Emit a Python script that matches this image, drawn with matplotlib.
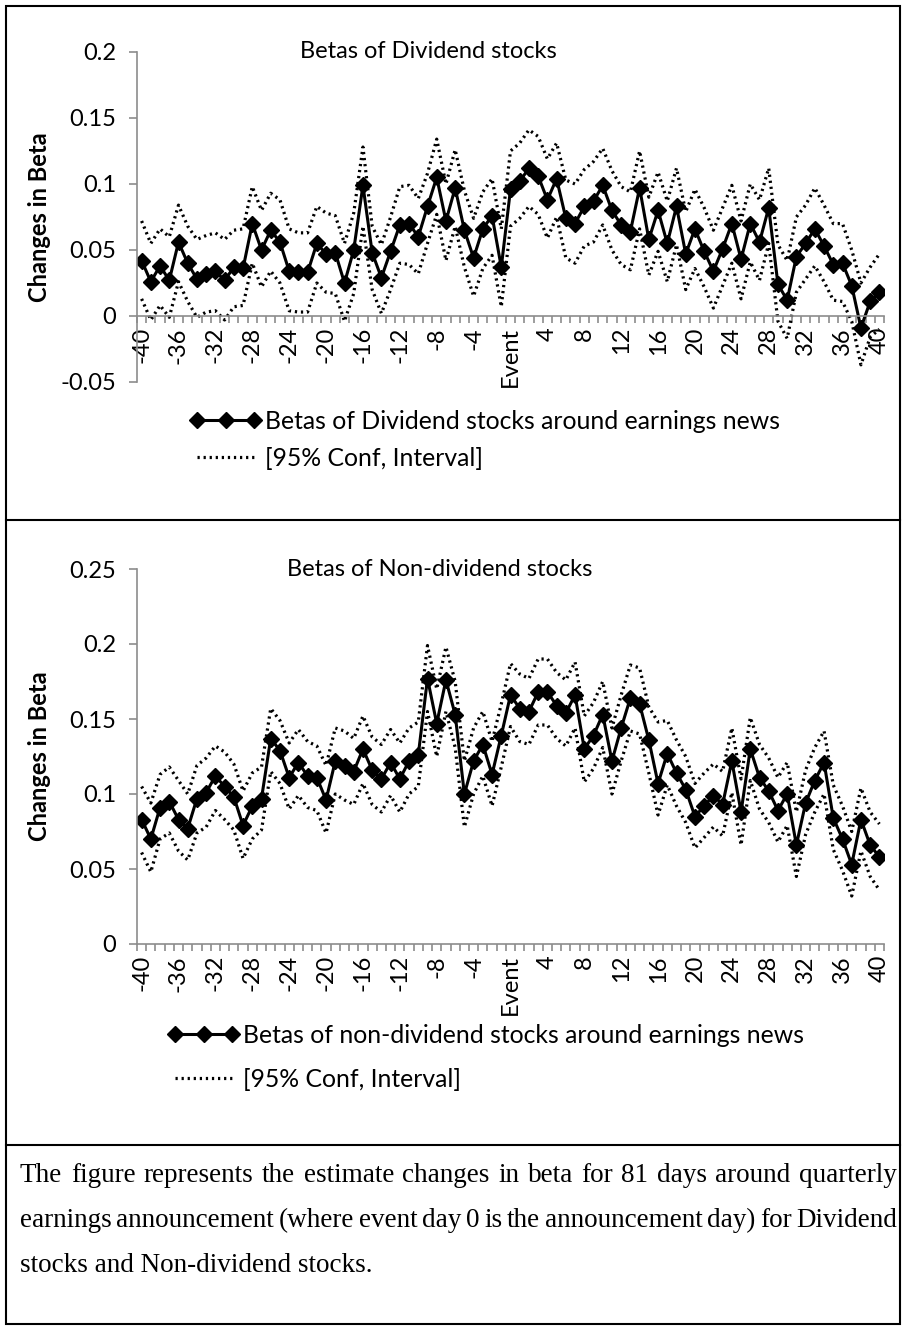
import matplotlib
matplotlib.use("Agg")
import matplotlib.pyplot as plt
from matplotlib.lines import Line2D
from matplotlib.patches import Rectangle
from matplotlib.font_manager import FontProperties

days = list(range(-40, 41))

div_beta = [
    0.042, 0.026, 0.038, 0.027, 0.056, 0.040, 0.028, 0.032, 0.034, 0.027,
    0.037, 0.036, 0.070, 0.050, 0.065, 0.056, 0.034, 0.033, 0.033, 0.055,
    0.047, 0.048, 0.025, 0.050, 0.099, 0.048, 0.029, 0.049, 0.069, 0.070,
    0.060, 0.083, 0.105, 0.072, 0.097, 0.065, 0.044, 0.066, 0.076, 0.037,
    0.096, 0.102, 0.112, 0.106, 0.088, 0.104, 0.074, 0.070, 0.083, 0.087,
    0.099, 0.080, 0.069, 0.064, 0.097, 0.058, 0.080, 0.055, 0.083, 0.047,
    0.066, 0.049, 0.034, 0.051, 0.070, 0.043, 0.070, 0.056, 0.082, 0.024,
    0.012, 0.045, 0.055, 0.066, 0.053, 0.039, 0.040, 0.023, -0.009, 0.011,
    0.018,
]
div_upper = [
    0.072, 0.055, 0.066, 0.060, 0.084, 0.068, 0.058, 0.061, 0.063, 0.058,
    0.065, 0.066, 0.098, 0.080, 0.093, 0.088, 0.066, 0.063, 0.063, 0.083,
    0.078, 0.076, 0.055, 0.078, 0.128, 0.068, 0.054, 0.075, 0.098, 0.099,
    0.089, 0.108, 0.134, 0.100, 0.126, 0.095, 0.074, 0.094, 0.104, 0.066,
    0.125, 0.131, 0.141, 0.136, 0.119, 0.131, 0.103, 0.100, 0.111, 0.117,
    0.127, 0.110, 0.098, 0.094, 0.125, 0.090, 0.109, 0.087, 0.112, 0.079,
    0.096, 0.082, 0.065, 0.082, 0.099, 0.072, 0.100, 0.088, 0.112, 0.054,
    0.042, 0.075, 0.084, 0.097, 0.084, 0.070, 0.070, 0.050, 0.025, 0.037,
    0.047,
]
div_lower = [
    0.013, -0.003, 0.008, -0.001, 0.026, 0.011, -0.001, 0.003, 0.004, -0.003,
    0.007, 0.008, 0.040, 0.022, 0.034, 0.025, 0.004, 0.003, 0.003, 0.025,
    0.018, 0.017, -0.004, 0.017, 0.068, 0.020, 0.002, 0.020, 0.040, 0.039,
    0.032, 0.055, 0.077, 0.042, 0.068, 0.037, 0.015, 0.036, 0.046, 0.007,
    0.068, 0.074, 0.083, 0.077, 0.059, 0.075, 0.044, 0.040, 0.053, 0.056,
    0.069, 0.050, 0.039, 0.035, 0.066, 0.031, 0.049, 0.026, 0.054, 0.020,
    0.036, 0.022, 0.006, 0.023, 0.040, 0.013, 0.041, 0.027, 0.055, -0.004,
    -0.017, 0.018, 0.028, 0.038, 0.026, 0.012, 0.011, -0.004, -0.037, -0.016,
    -0.010,
]

nondiv_beta = [
    0.083, 0.070, 0.091, 0.095, 0.083, 0.077, 0.097, 0.101, 0.112, 0.105,
    0.098, 0.079, 0.092, 0.097, 0.137, 0.129, 0.111, 0.121, 0.112, 0.111,
    0.096, 0.122, 0.119, 0.115, 0.130, 0.116, 0.110, 0.121, 0.110, 0.122,
    0.126, 0.177, 0.147, 0.176, 0.153, 0.100, 0.122, 0.133, 0.113, 0.139,
    0.166, 0.157, 0.155, 0.168, 0.168, 0.159, 0.154, 0.166, 0.130, 0.139,
    0.153, 0.122, 0.144, 0.164, 0.160, 0.136, 0.107, 0.127, 0.114, 0.103,
    0.085, 0.092, 0.099, 0.093, 0.122, 0.088, 0.130, 0.111, 0.102, 0.089,
    0.100, 0.066, 0.094, 0.109, 0.121, 0.084, 0.070, 0.053, 0.083, 0.066,
    0.058,
]
nondiv_upper = [
    0.105, 0.094, 0.113, 0.118, 0.109, 0.100, 0.119, 0.124, 0.132, 0.128,
    0.120, 0.102, 0.114, 0.118, 0.157, 0.149, 0.134, 0.143, 0.135, 0.132,
    0.119, 0.144, 0.142, 0.137, 0.152, 0.138, 0.133, 0.143, 0.134, 0.144,
    0.148, 0.199, 0.170, 0.198, 0.175, 0.122, 0.144, 0.155, 0.135, 0.160,
    0.187, 0.180, 0.177, 0.190, 0.190, 0.181, 0.176, 0.188, 0.152, 0.161,
    0.175, 0.144, 0.166, 0.186, 0.184, 0.158, 0.148, 0.149, 0.136, 0.125,
    0.107, 0.114, 0.120, 0.115, 0.144, 0.110, 0.151, 0.133, 0.124, 0.111,
    0.121, 0.088, 0.116, 0.131, 0.142, 0.106, 0.092, 0.075, 0.104, 0.088,
    0.080,
]
nondiv_lower = [
    0.061, 0.048, 0.070, 0.074, 0.062, 0.056, 0.074, 0.078, 0.089, 0.083,
    0.076, 0.057, 0.070, 0.076, 0.115, 0.107, 0.090, 0.099, 0.091, 0.089,
    0.074, 0.100, 0.096, 0.093, 0.107, 0.093, 0.088, 0.099, 0.088, 0.100,
    0.105, 0.155, 0.125, 0.155, 0.131, 0.078, 0.100, 0.112, 0.092, 0.118,
    0.145, 0.135, 0.133, 0.146, 0.146, 0.137, 0.132, 0.144, 0.108, 0.117,
    0.131, 0.100, 0.122, 0.142, 0.140, 0.114, 0.086, 0.106, 0.092, 0.081,
    0.064, 0.071, 0.078, 0.072, 0.101, 0.066, 0.109, 0.090, 0.081, 0.068,
    0.079, 0.045, 0.073, 0.088, 0.100, 0.063, 0.049, 0.032, 0.062, 0.045,
    0.036,
]

tick_days = list(range(-40, 41, 4))
tick_labels = ["Event" if d == 0 else str(d) for d in tick_days]
top_yticks = [-0.05, 0, 0.05, 0.1, 0.15, 0.2]
bottom_yticks = [0, 0.05, 0.1, 0.15, 0.2, 0.25]

caption_lines = [
    "The figure represents the estimate changes in beta for 81 days around quarterly",
    "earnings announcement (where event day 0 is the announcement day) for Dividend",
    "stocks and Non-dividend stocks.",
]

W, H = 904, 1329
FONT = "Lato"
FS = 17
LEG_FS = 17.8
GRAY = "#8C8C8C"
DOT = (0, (0.7, 1.2))
DOT_LW = 2.3

plt.rcParams["font.family"] = [FONT, "DejaVu Sans"]

fig = plt.figure(figsize=(W / 100, H / 100), dpi=100)


def px_axes(left, top, right, bottom):
    return fig.add_axes([left / W, 1 - bottom / H, (right - left) / W, (bottom - top) / H])


def draw_panel(ax, beta, upper, lower, yticks, title, title_x):
    ax.plot(days, upper, color="black", lw=DOT_LW, ls=DOT)
    ax.plot(days, lower, color="black", lw=DOT_LW, ls=DOT)
    ax.plot(days, beta, color="black", lw=2.2, marker="D", ms=8.5)
    ax.set_xlim(-40.5, 40.5)
    ax.set_ylim(yticks[0], yticks[-1])

    for s in ("top", "right"):
        ax.spines[s].set_visible(False)
    for s in ("left", "bottom"):
        ax.spines[s].set_color(GRAY)
        ax.spines[s].set_linewidth(1.2)
    ax.spines["bottom"].set_position(("data", 0))

    ax.set_yticks(yticks)
    ax.set_yticklabels([f"{round(v, 3):g}" for v in yticks], fontsize=FS)
    ax.tick_params(axis="y", direction="out", length=6, width=1.2, color=GRAY, pad=9)

    ax.set_xticks(tick_days)
    ax.set_xticklabels(tick_labels, rotation=90, fontsize=FS, va="top", ha="center")
    ax.set_xticks([d + 0.5 for d in range(-41, 41)], minor=True)
    ax.tick_params(axis="x", which="major", length=0, pad=8)
    ax.tick_params(axis="x", which="minor", direction="out", length=5, width=1.2, color=GRAY)

    ax.text(title_x, 1.0, title, transform=ax.transAxes, ha="center", va="center", fontsize=FS)
    ax.text((40 - 137) / 747, 0.5, "Changes in Beta", transform=ax.transAxes,
            rotation=90, ha="center", va="center", fontsize=FS, fontweight="bold")


def add_legend(label, x, y, spacing):
    h1 = Line2D([], [], color="black", lw=2.2, marker="D", ms=8.5)
    h2 = Line2D([], [], color="black", lw=DOT_LW, ls=DOT)
    fig.legend([h1, h2], [label, "[95% Conf, Interval]"], loc="upper left",
               bbox_to_anchor=(x / W, 1 - y / H), bbox_transform=fig.transFigure,
               frameon=False, numpoints=3, handlelength=2.9, handletextpad=0.15,
               labelspacing=spacing, borderpad=0, borderaxespad=0,
               prop={"family": FONT, "size": LEG_FS})


ax1 = px_axes(137, 52, 884, 382)
draw_panel(ax1, div_beta, div_upper, div_lower, top_yticks, "Betas of Dividend stocks", 0.39)
add_legend("Betas of Dividend stocks around earnings news", 190, 410, 0.55)

ax2 = px_axes(137, 569, 884, 944)
draw_panel(ax2, nondiv_beta, nondiv_upper, nondiv_lower, bottom_yticks,
           "Betas of Non-dividend stocks", 0.405)
add_legend("Betas of non-dividend stocks around earnings news", 168, 1024, 0.85)

# frame and separators
fig.add_artist(Rectangle((6 / W, 1 - 1324 / H), 894 / W, 1318 / H, transform=fig.transFigure,
                         fill=False, lw=1.5, ec="black"))
for yy in (520, 1145):
    fig.add_artist(Line2D([6 / W, 900 / W], [1 - yy / H] * 2, transform=fig.transFigure,
                          color="black", lw=1.5))

# justified caption
renderer = fig.canvas.get_renderer()
x0, x1 = 20, 897
for i, line in enumerate(caption_lines):
    yb = 1 - (1182 + 45 * i) / H
    words = line.split()
    size = 19.5
    fp = FontProperties(family="Liberation Serif", size=size)
    if i < len(caption_lines) - 1:
        widths = [renderer.get_text_width_height_descent(w, fp, ismath=False)[0] for w in words]
        while sum(widths) + 4 * (len(words) - 1) > x1 - x0:
            size -= 0.25
            fp = FontProperties(family="Liberation Serif", size=size)
            widths = [renderer.get_text_width_height_descent(w, fp, ismath=False)[0] for w in words]
        gap = (x1 - x0 - sum(widths)) / (len(words) - 1)
        x = x0
        for w, ww in zip(words, widths):
            fig.text(x / W, yb, w, fontproperties=fp, va="baseline", ha="left")
            x += ww + gap
    else:
        fig.text(x0 / W, yb, line, fontproperties=fp, va="baseline", ha="left")

fig.savefig("out.png", dpi=100)
